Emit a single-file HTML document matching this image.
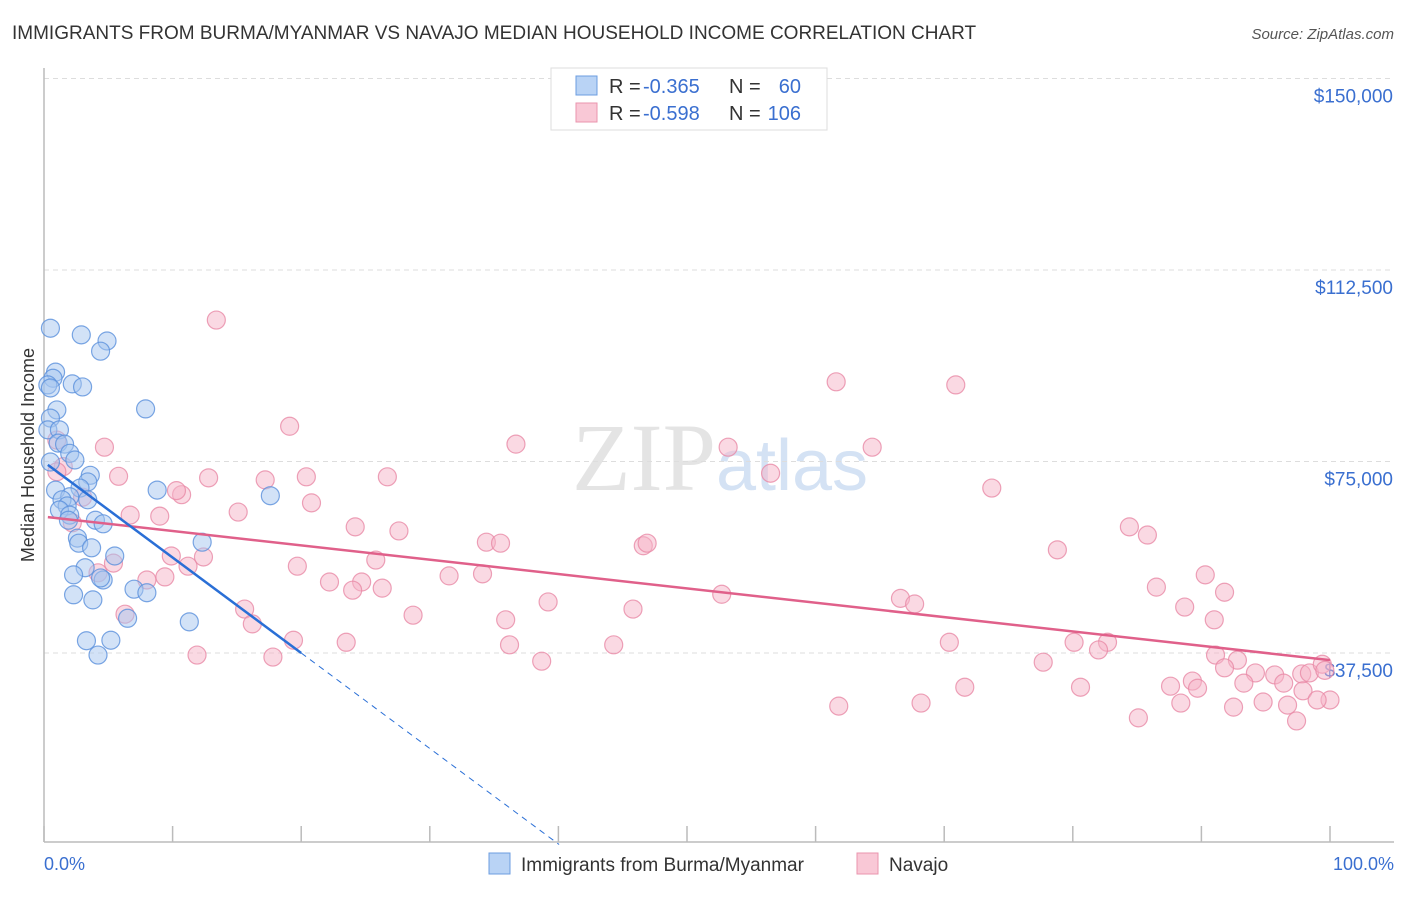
<!DOCTYPE html>
<html><head><meta charset="utf-8"><style>
body{margin:0;background:#fff;font-family:"Liberation Sans",sans-serif;}
</style></head><body>
<svg id="chart" width="1406" height="892" xmlns="http://www.w3.org/2000/svg" font-family="Liberation Sans, sans-serif">
<text x="12" y="39" font-size="19" fill="#333">IMMIGRANTS FROM BURMA/MYANMAR VS NAVAJO MEDIAN HOUSEHOLD INCOME CORRELATION CHART</text>
<text x="1394" y="39" font-size="15" fill="#555" text-anchor="end" font-style="italic">Source: ZipAtlas.com</text>
<text x="720" y="490" font-size="96" fill="#e4e4e4" text-anchor="middle" font-family="Liberation Serif, serif">ZIP<tspan fill="#d4e2f4" font-family="Liberation Sans, sans-serif" font-size="72">atlas</tspan></text>
<g id="grid"></g><g id="axes"></g><g id="marks"></g>
<text transform="translate(34,455) rotate(-90)" font-size="18" fill="#333" text-anchor="middle">Median Household Income</text>
<g>
<rect x="551" y="68" width="276" height="62" fill="#fff" stroke="#ddd"/>
<rect x="576" y="76" width="21" height="19" fill="#b9d3f5" stroke="#6c9ee0"/>
<text x="609" y="93" font-size="20" fill="#333">R =</text>
<text x="643" y="93" font-size="20" fill="#3a6fd0">-0.365</text>
<text x="729" y="93" font-size="20" fill="#333">N =</text>
<text x="801" y="93" font-size="20" fill="#3a6fd0" text-anchor="end">60</text>
<rect x="576" y="103" width="21" height="19" fill="#f9c8d6" stroke="#ea94ae"/>
<text x="609" y="120" font-size="20" fill="#333">R =</text>
<text x="643" y="120" font-size="20" fill="#3a6fd0">-0.598</text>
<text x="729" y="120" font-size="20" fill="#333">N =</text>
<text x="801" y="120" font-size="20" fill="#3a6fd0" text-anchor="end">106</text>
</g>
<g><rect x="489" y="853" width="21" height="21" fill="#b9d3f5" stroke="#6c9ee0"/><text x="521" y="871" font-size="19" fill="#333">Immigrants from Burma/Myanmar</text></g>
<g><rect x="857" y="853" width="21" height="21" fill="#f9c8d6" stroke="#ea94ae"/><text x="889" y="871" font-size="19" fill="#333">Navajo</text></g>
</svg>
<script>
const yTicks=[37500,75000,112500,150000];
const yTickLabels=["$37,500","$75,000","$112,500","$150,000"];
const xTickLabels=["0.0%","100.0%"];
const burmaX=[0.5,2.9,4.9,4.4,0.9,0.7,0.3,0.5,2.2,3.0,1.0,7.9,0.5,0.3,1.2,1.1,1.6,2.0,2.4,0.5,3.6,3.4,8.8,2.8,0.9,2.0,17.6,1.4,3.4,1.8,1.2,2.0,1.9,4.0,4.6,2.6,2.7,3.7,12.3,5.5,3.2,2.3,4.6,4.4,7.0,8.0,2.3,3.8,6.5,11.3,3.3,5.2,4.2];
const burmaY=[101.1,99.8,98.6,96.6,92.5,91.3,90.0,89.4,90.2,89.6,85.1,85.3,83.5,81.2,81.2,78.6,78.4,76.6,75.3,74.9,72.3,71.0,69.4,69.8,69.4,68.1,68.3,67.5,67.5,66.3,65.5,64.5,63.5,63.5,62.8,60.0,59.0,58.1,59.2,56.5,54.2,52.8,51.8,52.2,50.0,49.3,48.9,47.9,44.3,43.6,39.9,40.0,37.1];
const navajoX=[13.4,61.6,70.9,19.1,36.7,53.2,64.4,4.7,1.0,5.8,12.8,17.2,20.4,26.7,56.5,73.7,10.7,10.3,20.8,15.1,9.0,6.7,24.2,27.6,84.4,85.8,34.4,35.5,46.6,46.9,78.8,25.8,9.9,12.4,5.4,19.7,11.2,4.2,31.5,34.1,90.3,9.4,8.0,22.2,24.7,24.0,26.3,86.5,91.8,52.7,66.6,67.7,39.2,88.7,45.8,15.6,6.3,28.7,91.0,16.2,35.9,19.4,23.5,70.4,80.1,82.7,36.2,44.3,82.0,11.9,17.8,38.7,77.7,91.1,92.8,91.8,94.2,95.7,97.8,98.4,99.4,96.4,87.6,89.3,89.7,93.3,71.6,80.6,97.9,100,99.0,88.4,96.7,94.8,61.8,68.2,92.5,85.1,97.4,99.6,1.5,3.0,2.2,1.0];
const navajoY=[102.7,90.6,90.0,81.9,78.4,77.8,77.8,77.8,79.2,72.1,71.8,71.4,72.0,72.0,72.7,69.8,68.5,69.3,66.9,65.1,64.3,64.5,62.2,61.4,62.2,60.6,59.2,59.0,58.5,59.0,57.7,55.7,56.5,56.3,55.1,54.5,54.5,53.2,52.6,53.0,52.8,52.4,51.8,51.4,51.4,49.8,50.2,50.4,49.4,49.0,48.2,47.1,47.5,46.5,46.1,46.1,45.1,44.9,44.0,43.2,44.0,40.0,39.6,39.6,39.6,39.6,39.1,39.1,38.1,37.1,36.7,35.9,35.7,37.1,36.1,34.6,33.6,33.2,33.4,33.6,35.3,31.6,31.0,32.0,30.6,31.6,30.8,30.8,30.1,28.3,28.3,27.7,27.3,27.9,27.1,27.7,26.9,24.8,24.2,34.1,74.0,68.0,63.0,73.0];
const burmaTrend=[74.9,-1.87];
const navajoTrend=[64.2,-0.281];
const NS="http://www.w3.org/2000/svg";
const X=p=>44+p*12.86;
const Y=v=>844.5-v*191.5/37500;
const Yk=k=>Y(k*1000);
function mk(tag,attrs,parent){const e=document.createElementNS(NS,tag);for(const k in attrs)e.setAttribute(k,attrs[k]);document.getElementById(parent).appendChild(e);return e;}
yTicks.forEach((t,i)=>{
 const l=mk('line',{x1:44,x2:1394,y1:Y(t),y2:Y(t),stroke:'#ddd','stroke-dasharray':'5,4'},'grid');
 
 
 const tx=mk('text',{x:1393,y:Y(t)+24,'font-size':19,fill:'#3a6fd0','text-anchor':'end'},'axes');
 tx.textContent=yTickLabels[i];
 
 
});
let ax=mk('line',{x1:44,x2:44,y1:68,y2:842,stroke:'#bbb','stroke-width':1.5},'axes');


ax=mk('line',{x1:44,x2:1394,y1:842,y2:842,stroke:'#bbb','stroke-width':1.5},'axes');


for(let i=0;i<=10;i++){const t=mk('line',{x1:X(i*10),x2:X(i*10),y1:826,y2:842,stroke:'#bbb','stroke-width':1.5},'axes');
 
 }
[[0,'start',44],[100,'end',1394]].forEach((d,i)=>{const t=mk('text',{x:d[2],y:870,'font-size':18,fill:'#3a6fd0','text-anchor':d[1]},'axes');t.textContent=xTickLabels[i];
 
 });
function dots(xs,ys,fill,stroke,name){xs.forEach((x,i)=>{const c=mk('circle',{cx:X(x),cy:Yk(ys[i]),r:9,fill:fill,'fill-opacity':0.5,stroke:stroke,'stroke-opacity':0.8,'stroke-width':1.2},'marks');
 
 });}
dots(navajoX,navajoY,'#f5b3c7','#e88aa6','navajo-point');
dots(burmaX,burmaY,'#a6c6f0','#5a90dc','burma-point');
let ln=mk('line',{x1:X(0.3),y1:Yk(navajoTrend[0]+navajoTrend[1]*0.3),x2:X(100),y2:Yk(navajoTrend[0]+navajoTrend[1]*100),stroke:'#e0608a','stroke-width':2.5},'marks');


ln=mk('line',{x1:X(0.3),y1:Yk(burmaTrend[0]+burmaTrend[1]*0.3),x2:X(20),y2:Yk(burmaTrend[0]+burmaTrend[1]*20),stroke:'#2a6fd6','stroke-width':2.5},'marks');


const xe=-burmaTrend[0]/burmaTrend[1];
ln=mk('line',{x1:X(20),y1:Yk(burmaTrend[0]+burmaTrend[1]*20),x2:X(xe),y2:Yk(0),stroke:'#2a6fd6','stroke-width':1,'stroke-dasharray':'6,5'},'marks');


</script>
</body></html>
